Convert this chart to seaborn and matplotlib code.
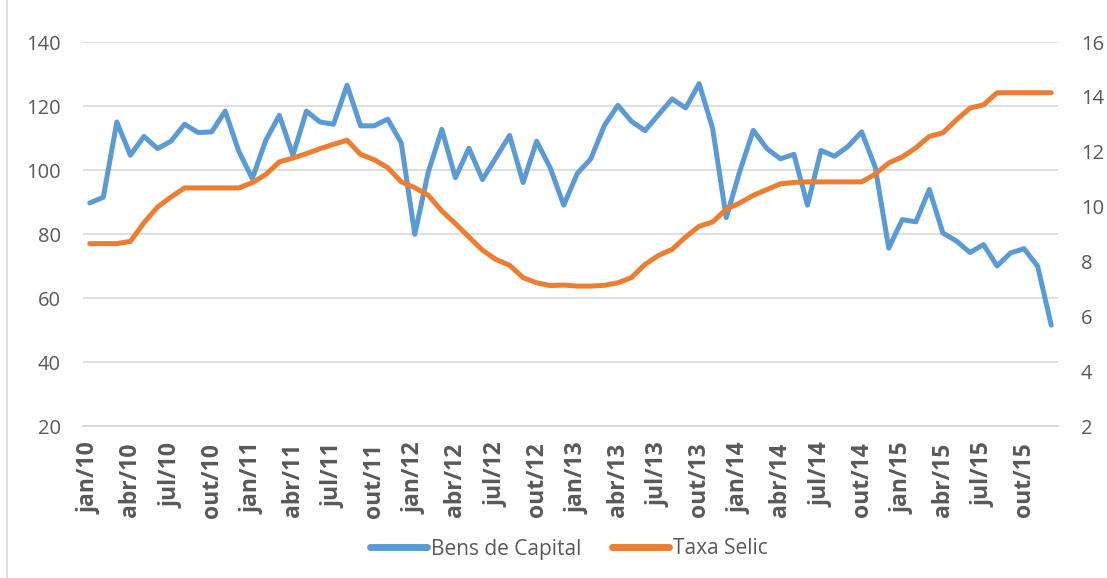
import matplotlib.pyplot as plt
import matplotlib.lines as mlines
import pandas as pd
import seaborn as sns

# meses jan/10 .. dez/15
meses_pt = ["jan", "fev", "mar", "abr", "mai", "jun", "jul", "ago", "set", "out", "nov", "dez"]
anos = ["10", "11", "12", "13", "14", "15"]
rotulos = [f"{m}/{a}" for a in anos for m in meses_pt]

# Bens de Capital (eixo esquerdo)
bens_capital = [
    89.7, 91.5, 115.0, 104.6, 110.5, 106.7, 109.0, 114.3, 111.7, 111.9, 118.4, 105.9,
    97.3, 109.3, 117.1, 104.6, 118.4, 115.0, 114.3, 126.5, 113.8, 113.8, 115.9, 108.5,
    79.9, 99.4, 112.7, 97.6, 106.8, 97.0, 103.9, 110.8, 96.1, 109.0, 100.7, 89.0,
    98.9, 103.5, 113.9, 120.2, 115.2, 112.3, 117.3, 122.2, 119.4, 127.0, 112.9, 85.1,
    99.6, 112.4, 106.7, 103.5, 104.9, 89.0, 106.1, 104.3, 107.4, 111.9, 100.9, 75.6,
    84.5, 83.8, 93.9, 80.3, 77.8, 74.2, 76.7, 70.0, 74.1, 75.4, 69.9, 51.5,
]

# Taxa Selic (eixo direito)
taxa_selic = [
    8.65, 8.65, 8.65, 8.73, 9.41, 9.98, 10.35, 10.68, 10.68, 10.68, 10.68, 10.68,
    10.87, 11.17, 11.63, 11.77, 11.93, 12.11, 12.27, 12.42, 11.90, 11.71, 11.42, 10.90,
    10.69, 10.41, 9.84, 9.38, 8.89, 8.41, 8.07, 7.86, 7.41, 7.22, 7.12, 7.14,
    7.10, 7.10, 7.13, 7.22, 7.41, 7.89, 8.22, 8.44, 8.89, 9.28, 9.44, 9.90,
    10.13, 10.41, 10.62, 10.83, 10.88, 10.90, 10.90, 10.90, 10.90, 10.90, 11.18, 11.59,
    11.81, 12.14, 12.56, 12.69, 13.16, 13.59, 13.71, 14.15, 14.15, 14.15, 14.15, 14.15,
]

df = pd.DataFrame({"idx": range(len(rotulos)), "mes": rotulos,
                   "Bens de Capital": bens_capital, "Taxa Selic": taxa_selic})

azul = "#5B9BD5"
laranja = "#ED7D31"
cinza_txt = "#595959"
cinza_linha = "#D9D9D9"

sns.set_style("white")
plt.rcParams["font.family"] = ["Open Sans", "DejaVu Sans"]

fig = plt.figure(figsize=(11.07, 5.78), dpi=100)
# área do gráfico: x 83..1058 px, y 42..426 px
ax = fig.add_axes([83 / 1107, 1 - 426 / 578, 975 / 1107, 384 / 578])
ax2 = ax.twinx()

estilo = dict(linewidth=3.6, solid_joinstyle="round", solid_capstyle="round")
sns.lineplot(data=df, x="idx", y="Bens de Capital", ax=ax, color=azul, legend=False, **estilo)
sns.lineplot(data=df, x="idx", y="Taxa Selic", ax=ax2, color=laranja, legend=False, **estilo)

# eixo esquerdo
ax.set_ylim(20, 140)
ax.set_yticks(range(20, 141, 20))
ax.grid(axis="y", color=cinza_linha, linewidth=1.2)
ax.set_axisbelow(True)
ax.set_xlim(-0.5, len(rotulos) - 0.5)
ax.set_xlabel("")
ax.set_ylabel("")

# eixo direito
ax2.set_ylim(2, 16)
ax2.set_yticks(range(2, 17, 2))
ax2.set_ylabel("")
ax2.grid(False)

# rótulos do eixo x a cada 3 meses, marcas nos limites das categorias
ax.set_xticks(range(0, len(rotulos), 3))
ax.set_xticklabels(rotulos[::3], rotation=90, fontweight="bold", fontsize=16.5, color=cinza_txt)
ax.set_xticks([i - 0.5 for i in range(0, len(rotulos) + 1, 3)], minor=True)
ax.tick_params(axis="x", which="major", length=0, pad=12)
ax.tick_params(axis="x", which="minor", length=6, width=1.2, color=cinza_linha, direction="out")
ax.tick_params(axis="y", length=0, pad=16, labelsize=14.5, labelcolor=cinza_txt)
ax2.tick_params(axis="y", length=0, pad=16.5, labelsize=14.5, labelcolor=cinza_txt)

for a in (ax, ax2):
    for s in ["top", "left", "right"]:
        a.spines[s].set_visible(False)
    a.spines["bottom"].set_color(cinza_linha)
    a.spines["bottom"].set_linewidth(1.2)

# legenda embaixo
h1 = mlines.Line2D([], [], color=azul, linewidth=5, solid_capstyle="round")
h2 = mlines.Line2D([], [], color=laranja, linewidth=5, solid_capstyle="round")
fig.legend([h1, h2], ["Bens de Capital", "Taxa Selic"], loc="center",
           bbox_to_anchor=(569 / 1107, 1 - 549 / 578), ncol=2, frameon=False,
           fontsize=15, labelcolor=cinza_txt, handlelength=2.7,
           handletextpad=0.2, columnspacing=1.5)

# borda do gráfico (estilo Excel)
fig.add_artist(mlines.Line2D([7 / 1107, 7 / 1107], [0, 1], color=cinza_linha, linewidth=1.2))

fig.savefig("out.png", dpi=100)
